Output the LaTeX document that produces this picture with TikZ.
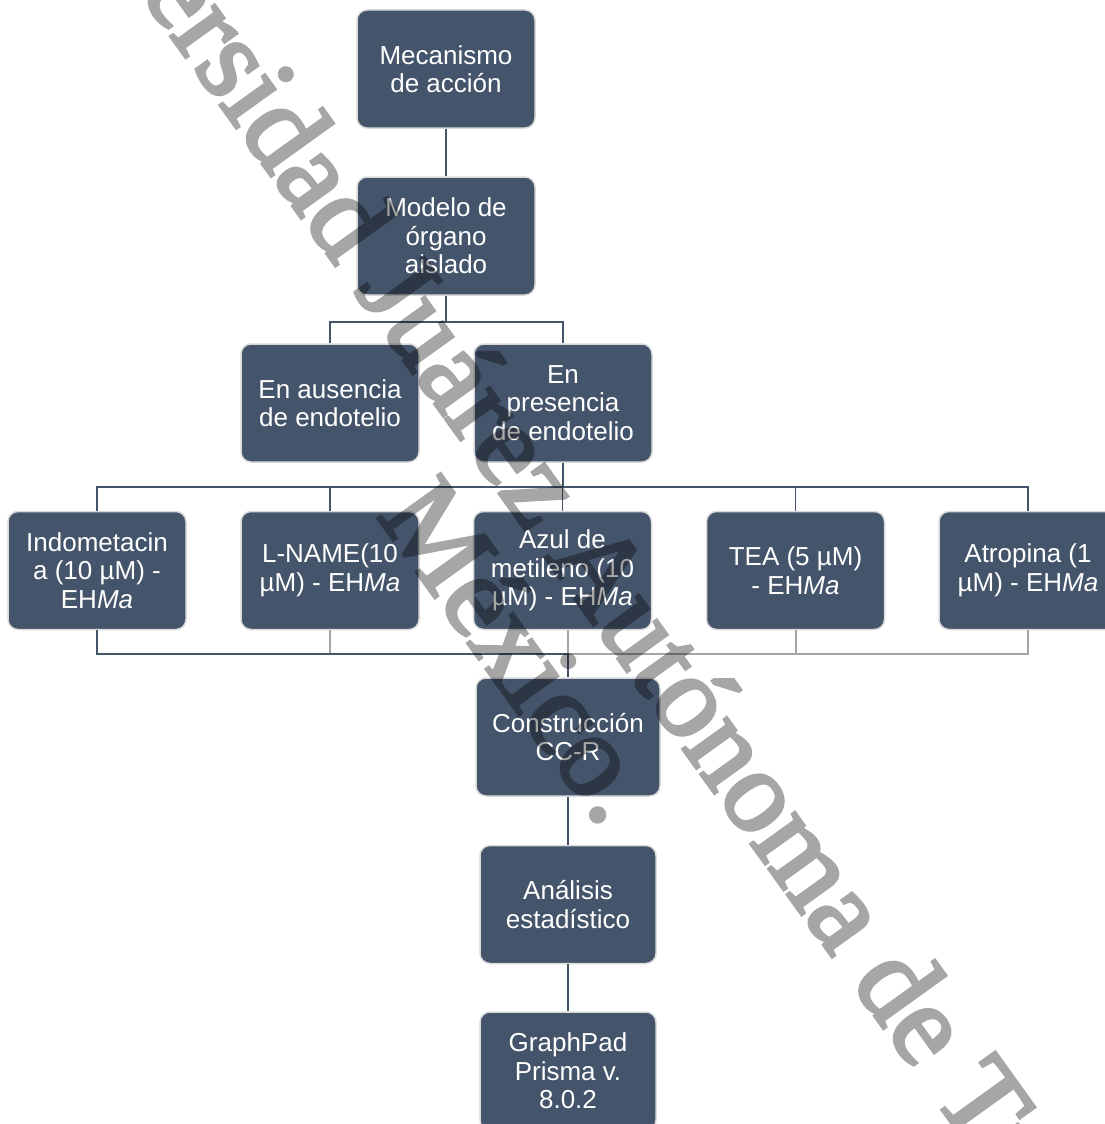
\documentclass[tikz,border=0pt]{standalone}
\usepackage{fontspec}
\setmainfont{Liberation Sans}
\newfontfamily\wmfont[FakeBold=3]{Liberation Serif}
\definecolor{boxfill}{HTML}{44546A}
\definecolor{boxline}{HTML}{DADADA}
\definecolor{darkline}{HTML}{44546A}
\definecolor{grayline}{HTML}{A5A5A5}
\begin{document}
\begin{tikzpicture}[x=1pt,y=-1pt,
 box/.style={rounded corners=10pt, fill=boxfill, draw=boxline, line width=1.5pt, text=white,
   minimum width=178pt, minimum height=118pt, inner sep=0pt, align=center,
   font=\fontsize{26}{28.5}\selectfont},
 dk/.style={draw=darkline, line width=1.6pt},
 gy/.style={draw=grayline, line width=2pt},
 wm/.style={font=\wmfont\fontsize{117}{135}\selectfont, text=black, inner sep=0pt}
]
\useasboundingbox (0,0) rectangle (1105,1124);
\clip (0,0) rectangle (1105,1124);
\fill[white] (0,0) rectangle (1105,1124);

\node[box] (mec) at (446,69) {Mecanismo\\de acción};
\node[box] (mod) at (446,236) {Modelo de\\órgano\\aislado};
\node[box] (aus) at (330,403) {En ausencia\\de endotelio};
\node[box] (pre) at (563,403) {En\\presencia\\de endotelio};
\node[box] (indo) at (97,570.5) {Indometacin\\a (10 µM) -\\EH\textit{Ma}};
\node[box] (lname) at (330,570.5) {L-NAME(10\\µM) - EH\textit{Ma}};
\node[box] (azul) at (562.5,570.5) {Azul de\\metileno (10\\µM) - EH\textit{Ma}};
\node[box] (tea) at (795.5,570.5) {TEA (5 µM)\\- EH\textit{Ma}};
\node[box] (atro) at (1028,570.5) {Atropina (1\\µM) - EH\textit{Ma}};
\node[box, minimum width=184pt] (cons) at (568,737) {Construcción\\CC-R};
\node[box, minimum width=176pt] (anal) at (568,904.5) {Análisis\\estadístico};
\node[box, minimum width=176pt] (graph) at (568,1071) {GraphPad\\Prisma v.\\8.0.2};

% dark connectors
\draw[dk] (mec.south) -- (mod.north);
\draw[dk] (mod.south) -- ++(0,26) -| (aus.north);
\draw[dk] (mod.south) -- ++(0,26) -| (pre.north);
\foreach \n in {indo,lname,azul,tea,atro}
  \draw[dk] (pre.south) -- ++(0,24) -| (\n.north);
% gray connectors
\draw[gy] (lname.south) -- ++(0,24) -| (cons.north);
\draw[gy] (azul.south -| cons.north) -- (cons.north);
\draw[gy] (tea.south) -- ++(0,24) -| (cons.north);
\draw[gy] (atro.south) -- ++(0,24) -| (cons.north);
\draw[dk] (indo.south) -- ++(0,24) -| (cons.north);
\draw[dk] (cons.south) -- (anal.north);
\draw[dk] (anal.south) -- (graph.north);

% watermark
\begin{scope}[transparency group, opacity=0.35]
\node[wm, rotate=-54.3, anchor=base west] (wm1) at (2.6,-197.7) {Universidad Juárez Autónoma de Tabasco.};
\node[wm, rotate=-54.3, anchor=base east] (wm2) at (602,830) {México.};
\end{scope}
\end{tikzpicture}
\end{document}
